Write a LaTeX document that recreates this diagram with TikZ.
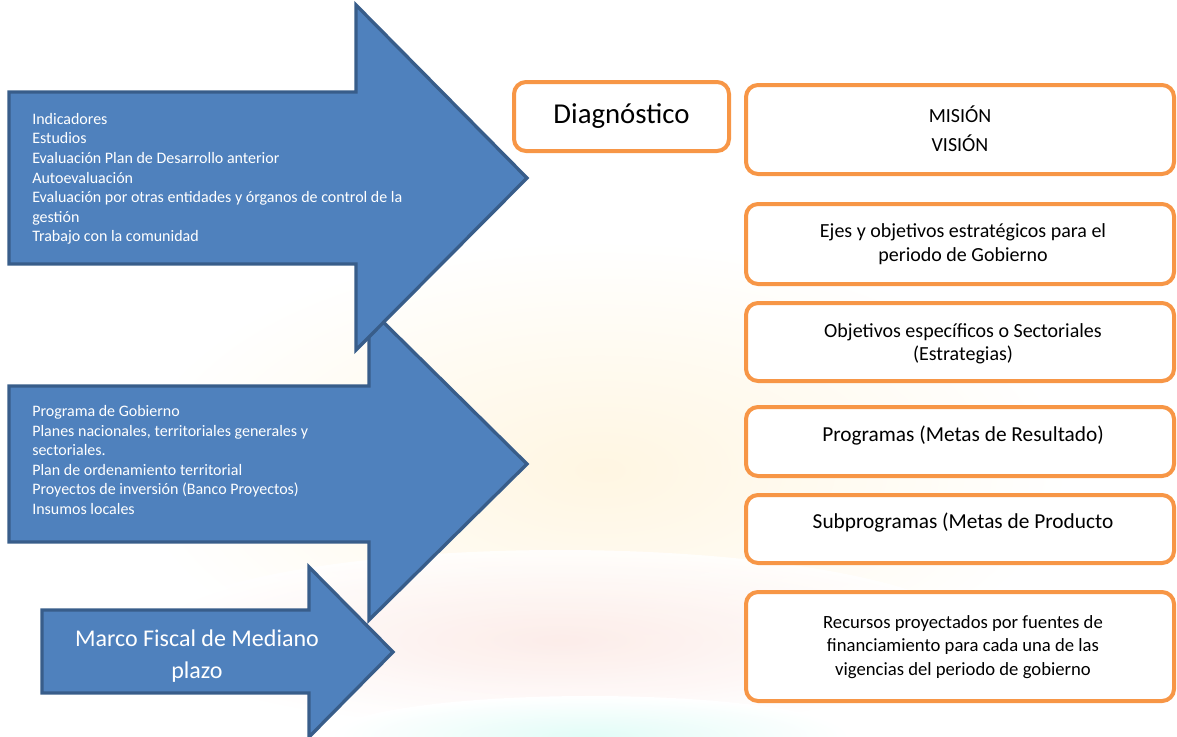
\documentclass[tikz,border=0pt]{standalone}
\usepackage{fontspec}
\setmainfont{Carlito}
\definecolor{arrfill}{HTML}{4F81BD}
\definecolor{arrline}{HTML}{385D8A}
\definecolor{orng}{HTML}{F79646}
\definecolor{wmcream}{HTML}{FFF6E2}
\definecolor{wmpink}{HTML}{FCE9E6}
\definecolor{wmcyan}{HTML}{E2FCF7}
\tikzset{
  bigarrow/.style={fill=arrfill, draw=arrline, line width=2.5pt, line join=miter},
  obox/.style={draw=orng, fill=white, line width=3pt, rounded corners=9pt, inner sep=0pt},
  btext/.style={align=center, text=black, inner sep=0pt},
  atext/.style={align=left, text=white, inner sep=0pt, anchor=west}
}
\begin{document}
\begin{tikzpicture}[x=0.75pt, y=-0.75pt]
\useasboundingbox (0,0) rectangle (1177,736);
% faint watermark
\shade[inner color=wmcream, outer color=white] (600,470) ellipse (470 and 230);
\shade[inner color=wmpink, outer color=white, opacity=0.8] (560,640) ellipse (420 and 90);
\shade[inner color=wmcyan, outer color=white] (590,736) ellipse (260 and 40);
% arrow 3
\draw[bigarrow] (42,610) -- (309,610) -- (309,567) -- (393,652) -- (309,737) -- (309,693) -- (42,693) -- cycle;
\node[align=center, text=white, inner sep=0pt, font=\fontsize{18pt}{24pt}\selectfont] (marco) at (197,656) {Marco Fiscal de Mediano\\plazo};
% arrow 2
\draw[bigarrow] (9,386) -- (369,386) -- (369,308) -- (527,464) -- (369,620) -- (369,542) -- (9,542) -- cycle;
\node[atext, font=\fontsize{12pt}{14.7pt}\selectfont] (insumos) at (32,460) {Programa de Gobierno\\Planes nacionales, territoriales generales y\\sectoriales.\\Plan de ordenamiento territorial\\Proyectos de inversión (Banco Proyectos)\\Insumos locales};
% arrow 1
\draw[bigarrow] (9,92) -- (356,92) -- (356,5) -- (527,178) -- (356,350) -- (356,264) -- (9,264) -- cycle;
\node[atext, font=\fontsize{12pt}{14.7pt}\selectfont] (fuentes) at (32,179) {Indicadores\\Estudios\\Evaluación Plan de Desarrollo anterior\\Autoevaluación\\Evaluación por otras entidades y órganos de control de la\\gestión\\Trabajo con la comunidad};
% Diagnostico
\node[obox, minimum width=161.25pt, minimum height=51.75pt, font=\fontsize{21.6pt}{26pt}\selectfont] (diag) at (621.5,116.5) {Diagnóstico};
% right boxes
\node[obox, minimum width=321pt, minimum height=66.75pt] (b1) at (960,129.5) {};
\node[btext, font=\fontsize{15pt}{21.75pt}\selectfont] (t1) at (960,129) {MISIÓN\\VISIÓN};
\node[obox, minimum width=321pt, minimum height=60pt] (b2) at (960,244) {};
\node[btext, font=\fontsize{15pt}{18pt}\selectfont] (t2) at (963,244) {Ejes y objetivos estratégicos para el\\periodo de Gobierno};
\node[obox, minimum width=321pt, minimum height=58.5pt] (b3) at (960,342) {};
\node[btext, font=\fontsize{15pt}{17.25pt}\selectfont] (t3) at (963,343.5) {Objetivos específicos o Sectoriales\\(Estrategias)};
\node[obox, minimum width=321pt, minimum height=51.75pt] (b4) at (960,441.5) {};
\node[btext, font=\fontsize{16pt}{19pt}\selectfont] (t4) at (963,436) {Programas (Metas de Resultado)};
\node[obox, minimum width=321pt, minimum height=51pt] (b5) at (960,529) {};
\node[btext, font=\fontsize{16pt}{19pt}\selectfont] (t5) at (963,523) {Subprogramas (Metas de Producto};
\node[obox, minimum width=321pt, minimum height=81.75pt] (b6) at (960,646.5) {};
\node[btext, font=\fontsize{14pt}{17.6pt}\selectfont] (t6) at (963,647) {Recursos proyectados por fuentes de\\financiamiento para cada una de las\\vigencias del periodo de gobierno};
\end{tikzpicture}
\end{document}
